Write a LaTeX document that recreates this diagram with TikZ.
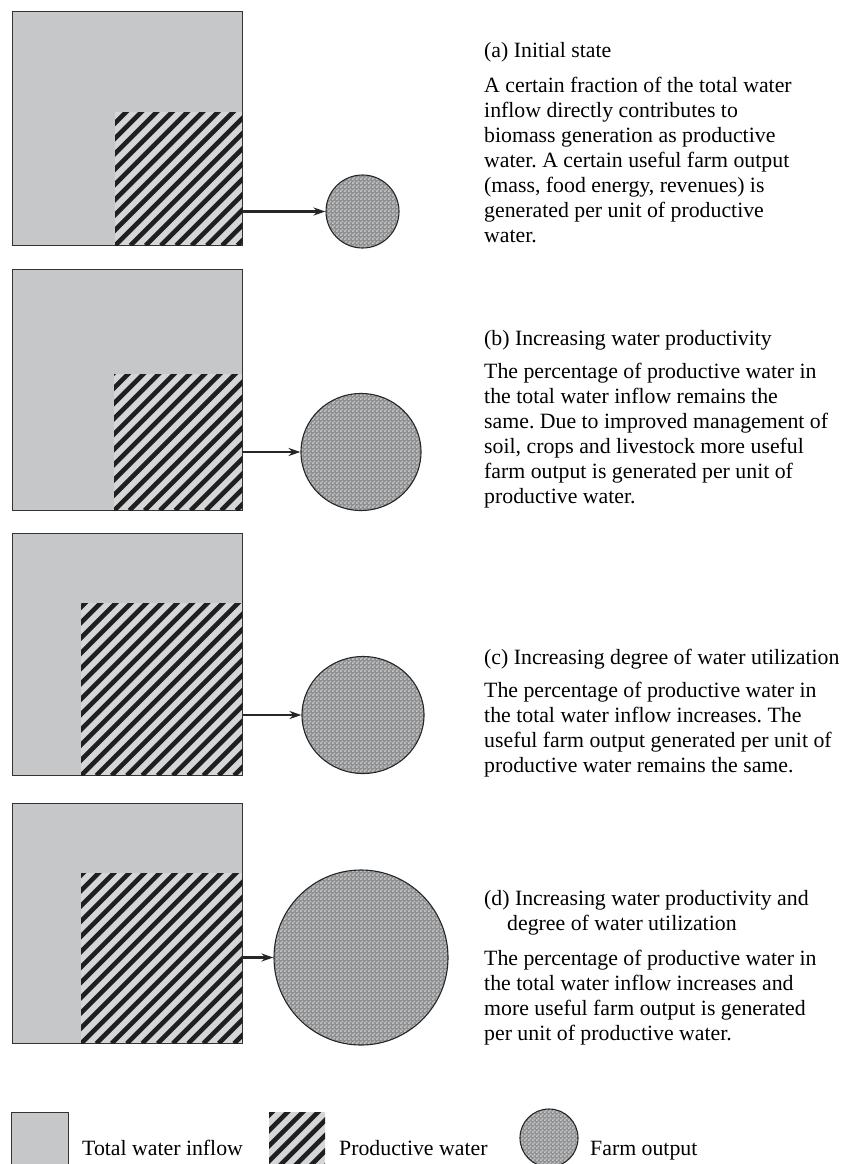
\documentclass[tikz,border=0pt]{standalone}
\usepackage{fontspec}
\setmainfont{Liberation Serif}
\frenchspacing
\usetikzlibrary{
  positioning,
  shapes.geometric,
  patterns,
  arrows.meta
}

\definecolor{inflowgray}{HTML}{C6C7C9}
\definecolor{prodgray}{HTML}{D5D6D8}
\definecolor{farmgray}{HTML}{8E8F91}
\definecolor{farmlight}{HTML}{C6C7C9}
\definecolor{edgegray}{HTML}{333333}

\pgfdeclarepatternformonly{farm dots}{\pgfqpoint{0pt}{0pt}}{\pgfqpoint{4pt}{4pt}}{\pgfqpoint{4pt}{4pt}}{%
  \pgfpathrectangle{\pgfqpoint{0pt}{0pt}}{\pgfqpoint{2pt}{2pt}}%
  \pgfpathrectangle{\pgfqpoint{2pt}{2pt}}{\pgfqpoint{2pt}{2pt}}%
  \pgfusepath{fill}}

\tikzset{
  inflow/.style={draw=edgegray, line width=1.3pt, fill=inflowgray, inner sep=0pt, anchor=north west},
  prodwater/.style={fill=prodgray, inner sep=0pt, anchor=south east, path picture={
      \foreach \k in {-14,...,14}
        \draw[line width=4.6pt, black!88] ([xshift=\k*15.3pt]path picture bounding box.south west) -- ++(260pt,260pt);}},
  farm/.style={ellipse, draw=black!85, line width=1.1pt, inner sep=0pt,
    preaction={fill=farmgray}, pattern=farm dots, pattern color=farmlight},
  flow/.style={-{Stealth[length=12pt,width=8pt]}, line width=2.1pt, black!85},
  caption/.style={inner sep=0pt, align=left, font=\fontsize{21.8}{25}\selectfont}
}

\begin{document}
\begin{tikzpicture}[x=1pt, y=-1pt]
  \clip (0,0) rectangle (853,1164);

  % (a) initial state
  \node [inflow, minimum width=230pt, minimum height=234pt] (tia) at (12,11) {};
  \node [prodwater, minimum width=127.4pt, minimum height=133.4pt] (pwa) at ([shift={(-0.65pt,0.65pt)}]tia.south east) {};
  \node [farm, minimum width=73pt, minimum height=73pt] (foa) at (362.5,211.5) {};
  \draw [flow] (foa.west -| pwa.east) -- (foa.west);
  \node [caption, anchor=north west] (capa) at (484,42) {(a) Initial state\\[10pt]
    A certain fraction of the total water\\ inflow directly contributes to\\
    biomass generation as productive\\ water. A certain useful farm output\\
    (mass, food energy, revenues) is\\ generated per unit of productive\\ water.};

  % (b) increasing water productivity
  \node [inflow, minimum width=230pt, minimum height=241pt] (tib) at (12,269) {};
  \node [prodwater, minimum width=128.4pt, minimum height=136.4pt] (pwb) at ([shift={(-0.65pt,0.65pt)}]tib.south east) {};
  \node [farm, minimum width=120pt, minimum height=117pt] (fob) at (361,452) {};
  \draw [flow] (fob.west -| pwb.east) -- (fob.west);
  \node [caption, anchor=north west] (capb) at (484,330) {(b) Increasing water productivity\\[8pt]
    The percentage of productive water in\\ the total water inflow remains the\\
    same. Due to improved management of\\ soil, crops and livestock more useful\\
    farm output is generated per unit of\\ productive water.};

  % (c) increasing degree of water utilization
  \node [inflow, minimum width=230pt, minimum height=242pt] (tic) at (12,533) {};
  \node [prodwater, minimum width=161.4pt, minimum height=172.4pt] (pwc) at ([shift={(-0.65pt,0.65pt)}]tic.south east) {};
  \node [farm, minimum width=122pt, minimum height=117pt] (foc) at (363,715) {};
  \draw [flow] (foc.west -| pwc.east) -- (foc.west);
  \node [caption, anchor=north west] (capc) at (484,649) {(c) Increasing degree of water utilization\\[8pt]
    The percentage of productive water in\\ the total water inflow increases. The\\
    useful farm output generated per unit of\\ productive water remains the same.};

  % (d) both
  \node [inflow, minimum width=230pt, minimum height=240pt] (tid) at (12,803) {};
  \node [prodwater, minimum width=161.4pt, minimum height=170.4pt] (pwd) at ([shift={(-0.65pt,0.65pt)}]tid.south east) {};
  \node [farm, minimum width=174pt, minimum height=175pt] (fod) at (361,957.5) {};
  \draw [flow] (fod.west -| pwd.east) -- (fod.west);
  \node [caption, anchor=north west] (capd) at (484,890) {(d) Increasing water productivity and\\
    \hspace*{23pt}degree of water utilization\\[10pt]
    The percentage of productive water in\\ the total water inflow increases and\\
    more useful farm output is generated\\ per unit of productive water.};

  % legend
  \node [inflow, minimum width=57pt, minimum height=64pt] (lgti) at (11,1112) {};
  \node [caption, anchor=base west] (lgtitext) at (82,1155) {Total water inflow};
  \node [prodwater, anchor=north west, minimum width=56pt, minimum height=64pt] (lgpw) at (269,1112) {};
  \node [caption, anchor=base west] (lgpwtext) at (339,1155) {Productive water};
  \node [farm, minimum width=58pt, minimum height=58pt] (lgfo) at (549,1138) {};
  \node [caption, anchor=base west] (lgfotext) at (590,1155) {Farm output};
\end{tikzpicture}
\end{document}
